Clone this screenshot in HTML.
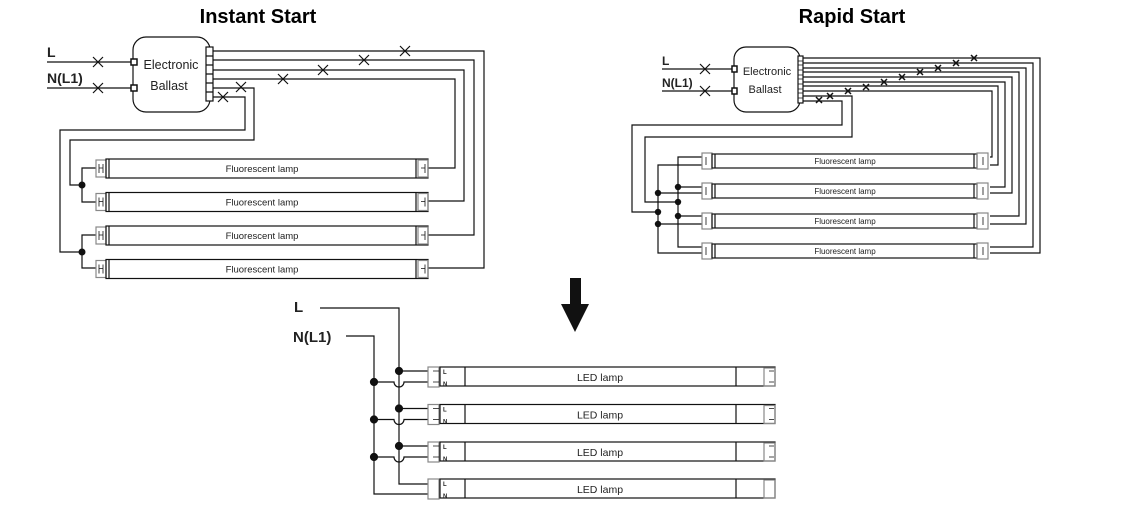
<!DOCTYPE html>
<html><head><meta charset="utf-8"><style>
html,body{margin:0;padding:0;background:#fff;}
svg{display:block;}
text{font-family:"Liberation Sans",Arial,sans-serif;fill:#222;}
</style></head><body>
<svg width="1124" height="508" viewBox="0 0 1124 508" xmlns="http://www.w3.org/2000/svg">
<g fill="none" stroke="#111" stroke-width="1.2">
<line x1="47" y1="62" x2="131" y2="62"/>
<line x1="47" y1="88" x2="131" y2="88"/>
<path d="M93 57 l10 10 M103 57 l-10 10 M93 83 l10 10 M103 83 l-10 10"/>
<rect x="133" y="37" width="77" height="75" rx="13"/>
<rect x="131" y="59" width="6" height="6" fill="#fff" stroke-width="1.5"/>
<rect x="131" y="85" width="6" height="6" fill="#fff" stroke-width="1.5"/>
<rect x="206" y="47" width="7" height="54" fill="#fff"/>
<path d="M206 56h7M206 65h7M206 74h7M206 83h7M206 92h7"/>
<polyline points="213,51 484,51 484,268 428,268"/>
<polyline points="213,60 474,60 474,235 428,235"/>
<polyline points="213,70 464,70 464,201 428,201"/>
<polyline points="213,79 455,79 455,168 428,168"/>
<polyline points="213,88 254,88 254,140 70,140 70,185 82,185"/>
<polyline points="213,97 245,97 245,130 60,130 60,252 82,252"/>
<path d="M400 46l10 10M410 46l-10 10 M359 55l10 10M369 55l-10 10 M318 65l10 10M328 65l-10 10 M278 74l10 10M288 74l-10 10 M236 82l10 10M246 82l-10 10 M218 92l10 10M228 92l-10 10"/>
<polyline points="96,168 82,168 82,202 96,202"/>
<polyline points="96,235 82,235 82,268 96,268"/>
<g id="fl">
<rect x="96" y="160" width="10" height="17" stroke="#888"/>
<rect x="106" y="159" width="322" height="19"/>
<line x1="109" y1="159" x2="109" y2="178"/>
<line x1="416" y1="159" x2="416" y2="178"/>
<rect x="418" y="160" width="10" height="17" stroke="#888"/>
<path d="M99 164v9M99 168h4M103 164v9M425 164v9M421 168h4" stroke-width="0.8"/>
</g>
<use href="#fl" y="33.5"/>
<use href="#fl" y="67"/>
<use href="#fl" y="100.5"/>
<line x1="662" y1="69" x2="733" y2="69"/>
<line x1="662" y1="91" x2="733" y2="91"/>
<path d="M700 64l10 10M710 64l-10 10 M700 86l10 10M710 86l-10 10"/>
<rect x="734" y="47" width="66" height="65" rx="12"/>
<rect x="732" y="66" width="5" height="6" fill="#fff" stroke-width="1.5"/>
<rect x="732" y="88" width="5" height="6" fill="#fff" stroke-width="1.5"/>
<rect x="798" y="56" width="5" height="47" fill="#fff"/>
<path d="M798 61h5M798 65h5M798 70h5M798 75h5M798 79h5M798 84h5M798 89h5M798 93h5M798 98h5" stroke-width="0.8"/>
<polyline points="803,58 1040,58 1040,253 990,253"/>
<polyline points="803,63 1033,63 1033,247 990,247"/>
<polyline points="803,68 1026,68 1026,224 990,224"/>
<polyline points="803,72 1019,72 1019,216 990,216"/>
<polyline points="803,77 1012,77 1012,193 990,193"/>
<polyline points="803,82 1005,82 1005,187 990,187"/>
<polyline points="803,86 998,86 998,165 990,165"/>
<polyline points="803,91 992,91 992,157 990,157"/>
<polyline points="803,96 852,96 852,137 645,137 645,202 678,202"/>
<polyline points="803,101 842,101 842,125 632,125 632,212 658,212"/>
<path stroke-width="1.5" d="M971 55l6 6M977 55l-6 6 M953 60l6 6M959 60l-6 6 M935 65l6 6M941 65l-6 6 M917 69l6 6M923 69l-6 6 M899 74l6 6M905 74l-6 6 M881 79l6 6M887 79l-6 6 M863 84l6 6M869 84l-6 6 M845 88l6 6M851 88l-6 6 M827 93l6 6M833 93l-6 6 M816 97l6 6M822 97l-6 6"/>
<polyline points="702,157 678,157 678,247 702,247"/>
<polyline points="702,165 658,165 658,253 702,253"/>
<line x1="678" y1="187" x2="702" y2="187"/>
<line x1="658" y1="193" x2="702" y2="193"/>
<line x1="678" y1="216" x2="702" y2="216"/>
<line x1="658" y1="224" x2="702" y2="224"/>
<g id="rl">
<rect x="702" y="153" width="10" height="16" stroke="#888"/>
<rect x="712" y="154" width="265" height="14"/>
<line x1="715" y1="154" x2="715" y2="168"/>
<line x1="974" y1="154" x2="974" y2="168"/>
<rect x="977" y="153" width="11" height="16" stroke="#888"/>
<path d="M706 157v8M983 157v8" stroke-width="0.8"/>
</g>
<use href="#rl" y="30"/>
<use href="#rl" y="60"/>
<use href="#rl" y="90"/>
<polyline points="320,308 399,308 399,484 428,484"/>
<polyline points="346,336 374,336 374,494 428,494"/>
<g id="ll">
<line x1="399" y1="371" x2="428" y2="371"/>
<path d="M374 382 H394 a5 5 0 0 0 10 0 H428"/>
<rect x="428" y="367" width="11" height="20" stroke="#888"/>
<path d="M433 371h6M433 382h6M769 371h5M769 382h5" stroke-width="0.8"/>
<rect x="440" y="367" width="335" height="19"/>
<line x1="465" y1="367" x2="465" y2="386"/>
<line x1="736" y1="367" x2="736" y2="386"/>
<rect x="764" y="368" width="11" height="18" stroke="#888"/>
<circle cx="399" cy="371" r="3.5" fill="#111"/>
<circle cx="374" cy="382" r="3.5" fill="#111"/>
</g>
<use href="#ll" y="37.5"/>
<use href="#ll" y="75"/>
<g>
<rect x="428" y="479" width="11" height="20" stroke="#888"/>
<rect x="440" y="479" width="335" height="19"/>
<line x1="465" y1="479" x2="465" y2="498"/>
<line x1="736" y1="479" x2="736" y2="498"/>
<rect x="764" y="480" width="11" height="18" stroke="#888"/>
</g>
</g>
<g fill="#111">
<circle cx="82" cy="185" r="3.5"/><circle cx="82" cy="252" r="3.5"/>
<circle cx="658" cy="193" r="3.2"/><circle cx="658" cy="212" r="3.2"/><circle cx="658" cy="224" r="3.2"/>
<circle cx="678" cy="187" r="3.2"/><circle cx="678" cy="202" r="3.2"/><circle cx="678" cy="216" r="3.2"/>
<polygon points="570,278 581,278 581,304 589,304 575,332 561,304 570,304"/>
</g>
<g font-size="6" font-weight="bold">
<text x="443" y="374">L</text><text x="443" y="386">N</text>
<text x="443" y="411.5">L</text><text x="443" y="423.5">N</text>
<text x="443" y="449">L</text><text x="443" y="461">N</text>
<text x="443" y="486">L</text><text x="443" y="498">N</text>
</g>
<text x="258" y="23" font-size="20" font-weight="bold" text-anchor="middle" style="fill:#000">Instant Start</text>
<text x="852" y="23" font-size="20" font-weight="bold" text-anchor="middle" style="fill:#000">Rapid Start</text>
<text x="47" y="57" font-size="14" font-weight="bold">L</text>
<text x="47" y="83" font-size="14" font-weight="bold">N(L1)</text>
<text x="171" y="69" font-size="12.5" text-anchor="middle">Electronic</text>
<text x="169" y="90" font-size="12.5" text-anchor="middle">Ballast</text>
<text x="262" y="172" font-size="9.5" text-anchor="middle">Fluorescent  lamp</text>
<text x="262" y="205.5" font-size="9.5" text-anchor="middle">Fluorescent  lamp</text>
<text x="262" y="239" font-size="9.5" text-anchor="middle">Fluorescent  lamp</text>
<text x="262" y="272.5" font-size="9.5" text-anchor="middle">Fluorescent  lamp</text>
<text x="662" y="65" font-size="12" font-weight="bold">L</text>
<text x="662" y="87" font-size="12" font-weight="bold">N(L1)</text>
<text x="767" y="75" font-size="11" text-anchor="middle">Electronic</text>
<text x="765" y="93" font-size="11" text-anchor="middle">Ballast</text>
<text x="845" y="164" font-size="8" text-anchor="middle">Fluorescent  lamp</text>
<text x="845" y="194" font-size="8" text-anchor="middle">Fluorescent  lamp</text>
<text x="845" y="224" font-size="8" text-anchor="middle">Fluorescent  lamp</text>
<text x="845" y="254" font-size="8" text-anchor="middle">Fluorescent  lamp</text>
<text x="294" y="312" font-size="15" font-weight="bold">L</text>
<text x="293" y="342" font-size="15" font-weight="bold">N(L1)</text>
<text x="600" y="381" font-size="10.5" text-anchor="middle">LED  lamp</text>
<text x="600" y="418.5" font-size="10.5" text-anchor="middle">LED  lamp</text>
<text x="600" y="456" font-size="10.5" text-anchor="middle">LED  lamp</text>
<text x="600" y="493" font-size="10.5" text-anchor="middle">LED  lamp</text>
</svg>
</body></html>
